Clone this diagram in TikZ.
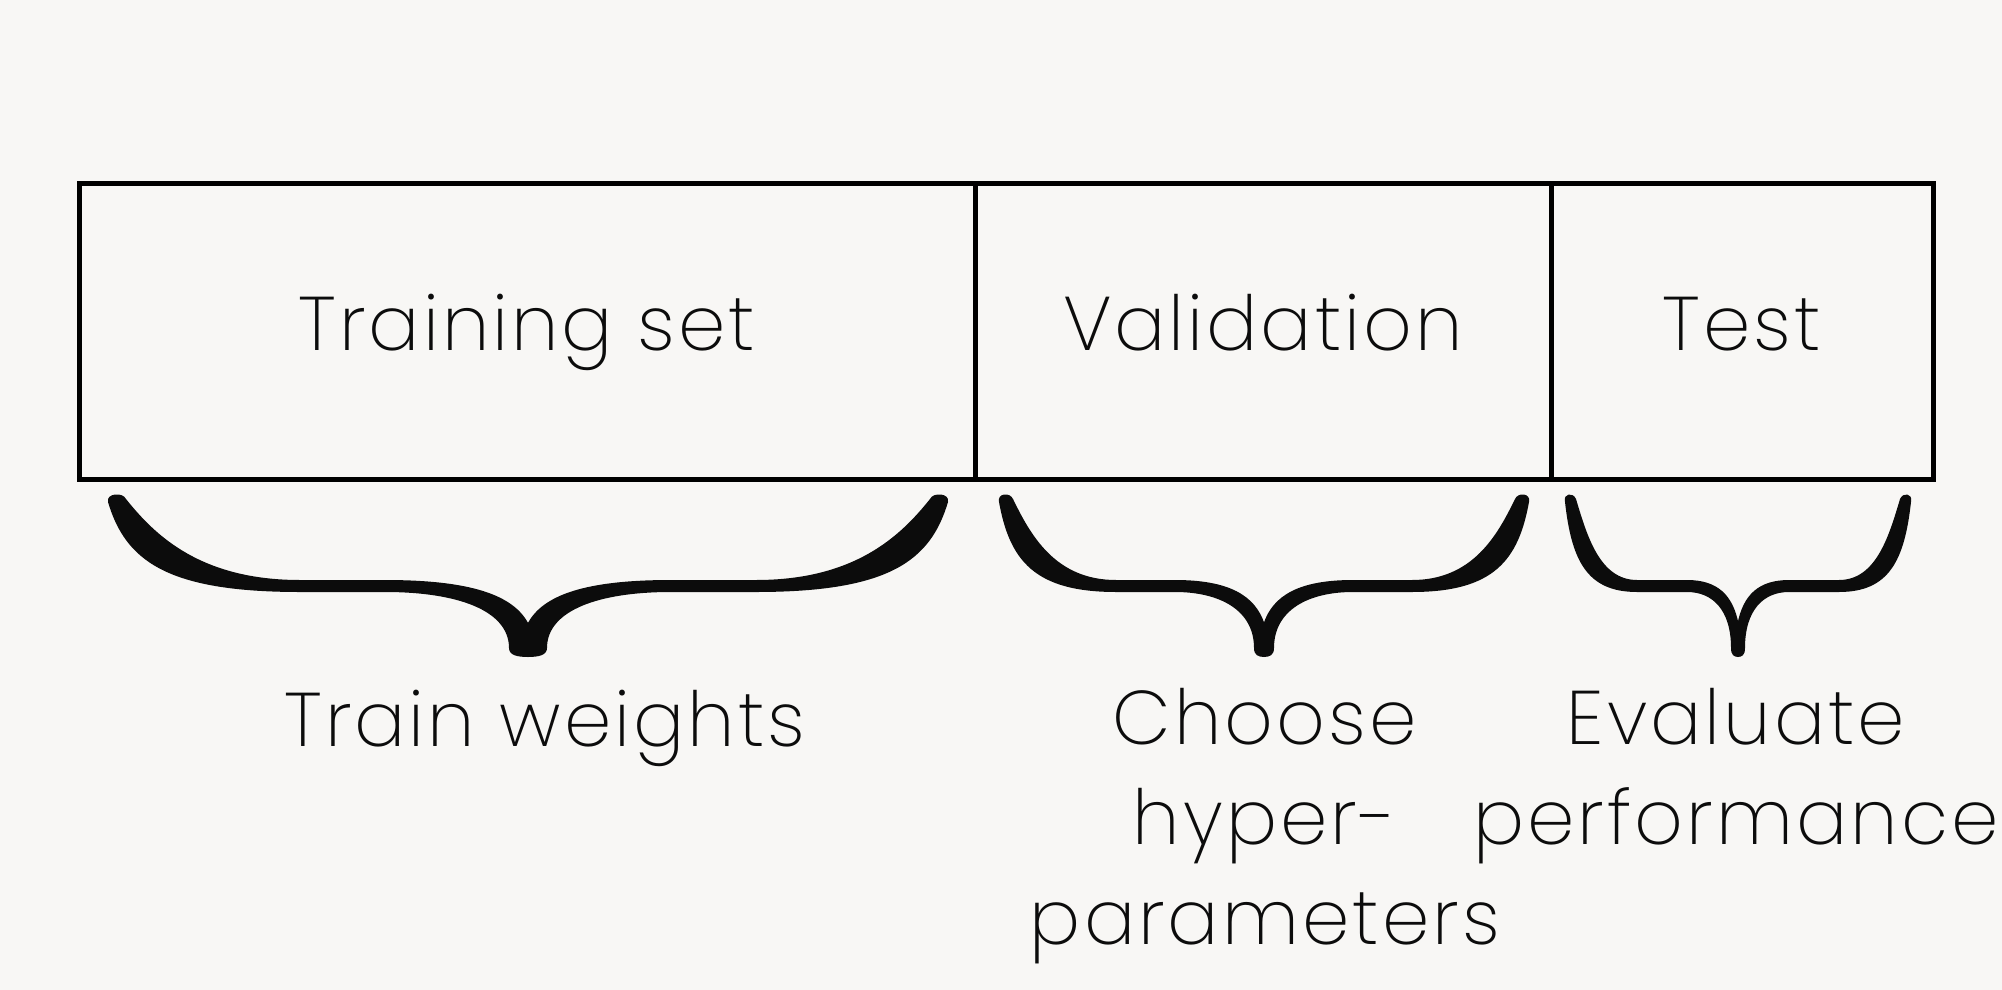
\documentclass[tikz,border=0pt]{standalone}
\usepackage{fontspec}
\setmainfont{Poppins ExtraLight}[LetterSpace=4]
\definecolor{bg}{HTML}{F8F7F5}
\definecolor{ink}{HTML}{0C0C0C}
% half brace: #1 a (tip distance), #2 e (outer extent), #3 s (stem half width), #4 tw (tip width), #5 r (inner extent)
\newcommand\halfbrc[5]{%
  \fill[ink] (0.6,657) .. controls ({-0.6*#3},657) and ({-#3},655) .. ({-#3},648)
    .. controls ({-#3},610) and ({-0.5*#5},592) .. ({-#5},592)
    -- ({-#1+#2},592)
    .. controls ({-#1+0.3*#2},592) and ({-#1+0.09*#2},560) .. ({-#1},502)
    .. controls ({-#1-2},493) and ({-#1+#4-3},492) .. ({-#1+#4},499)
    .. controls ({-#1+#4+0.15*#2},535) and ({-#1+0.48*#2},580) .. ({-#1+#2},580)
    -- ({-#5},580)
    .. controls ({-0.4*#5},580) and ({-0.1*#5},595) .. (0.6,624) -- cycle;}
\newcommand\fullbrc[6]{%
  \begin{scope}[shift={(#1,0)}]\halfbrc{#2}{#3}{#4}{#5}{#6}\end{scope}
  \begin{scope}[shift={(#1,0)},xscale=-1]\halfbrc{#2}{#3}{#4}{#5}{#6}\end{scope}}
\begin{document}
\begin{tikzpicture}[x=0.5pt,y=-0.5pt,
  part/.style={draw=black,line width=2.5pt,minimum height=148pt,inner sep=0pt,
    text height=24.5pt,text depth=5.5pt,font=\fontsize{38}{50}\selectfont,text=ink},
  lbl/.style={font=\fontsize{38}{50}\selectfont,text=ink,inner sep=0pt,align=center}]
\fill[bg] (0,0) rectangle (2002,990);
\useasboundingbox (0,0) rectangle (2002,990);
\node[part,minimum width=448pt] (train) at (527,331) {Training set};
\node[part,minimum width=288pt] (valid) at (1263,331) {Validation};
\node[part,minimum width=191pt] (test) at (1742,331) {Test};
\fullbrc{528}{420}{192}{19}{18}{143}
\fullbrc{1264}{265}{117}{10}{14}{89}
\fullbrc{1738}{173}{72}{7}{11}{51}
\node[lbl,anchor=base] (lw) at (545,746) {Train weights};
\node[lbl,anchor=base] (lv) at (1265,944) {Choose\\hyper-\\parameters};
\node[lbl,anchor=base] (lt) at (1736,844) {Evaluate\\performance};
\end{tikzpicture}
\end{document}
